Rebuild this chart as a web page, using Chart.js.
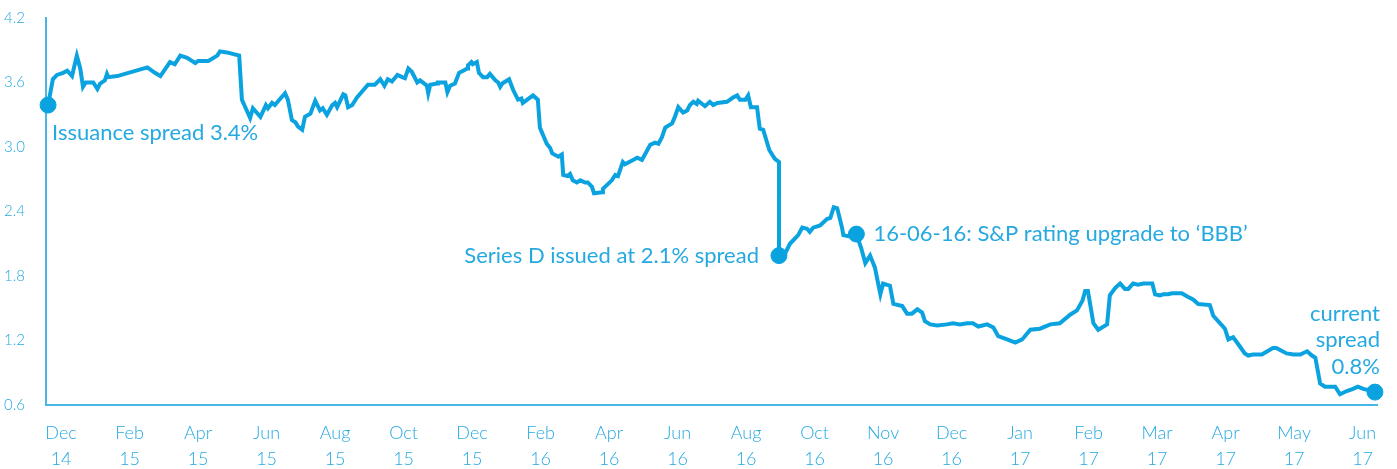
<!DOCTYPE html>
<html lang="en">
<head>
    <meta charset="UTF-8">
    <title>Spread history</title>
    <script src="https://cdn.jsdelivr.net/npm/chart.js@4.4.1/dist/chart.umd.min.js"></script>
    <style>
        body { margin: 0; background: #fff; }
        #wrap { width: 1397px; height: 469px; }
    </style>
</head>
<body>
    <div id="wrap">
        <canvas id="spreadChart" width="1397" height="469"></canvas>
    </div>

    <script>
        // x axis tick labels (one tick per label, evenly spaced as in the source)
        const months = ['Dec', 'Feb', 'Apr', 'Jun', 'Aug', 'Oct', 'Dec', 'Feb', 'Apr', 'Jun',
                        'Aug', 'Oct', 'Nov', 'Dec', 'Jan', 'Feb', 'Mar', 'Apr', 'May', 'Jun'];
        const years = ['14', '15', '15', '15', '15', '15', '15', '16', '16', '16',
                       '16', '16', '16', '16', '17', '17', '17', '17', '17', '17'];
        const yTicks = [0.6, 1.2, 1.8, 2.4, 3.0, 3.6, 4.2];

        // position along the axis (in tick units) and spread (%)
        const pos = [
            -0.19, -0.12, -0.06, 0.03, 0.09, 0.16, 0.23, 0.28, 0.32, 0.36, 0.47, 0.53, 0.57, 0.64, 0.67, 0.69, 0.82,
            1.26, 1.37, 1.45, 1.59, 1.66, 1.74, 1.84, 1.96, 2.00, 2.15, 2.28, 2.32, 2.42, 2.60, 2.64, 2.76, 2.80,
            2.91, 2.99, 3.02, 3.08, 3.12, 3.27, 3.31, 3.37, 3.42, 3.46, 3.52, 3.56, 3.64, 3.71, 3.78, 3.82, 3.88,
            3.96, 4.00, 4.03, 4.12, 4.15, 4.19, 4.25, 4.32, 4.36, 4.48, 4.58, 4.66, 4.72, 4.77, 4.83, 4.91, 4.98,
            5.02, 5.07, 5.12, 5.20, 5.24, 5.34, 5.36, 5.39, 5.49, 5.50, 5.61, 5.64, 5.68, 5.75, 5.81, 5.87, 5.93,
            5.94, 5.99, 6.01, 6.07, 6.10, 6.16, 6.22, 6.26, 6.34, 6.38, 6.41, 6.44, 6.54, 6.60, 6.67, 6.72, 6.74,
            6.89, 6.96, 6.99, 7.09, 7.14, 7.17, 7.26, 7.31, 7.33, 7.39, 7.43, 7.47, 7.53, 7.58, 7.65, 7.69, 7.75,
            7.78, 7.90, 7.91, 8.04, 8.09, 8.13, 8.20, 8.23, 8.35, 8.41, 8.48, 8.60, 8.67, 8.72, 8.77, 8.82, 8.92,
            8.96, 9.01, 9.08, 9.14, 9.18, 9.23, 9.28, 9.30, 9.36, 9.40, 9.47, 9.52, 9.58, 9.72, 9.81, 9.87, 9.91,
            9.99, 10.03, 10.07, 10.16, 10.20, 10.25, 10.34, 10.42, 10.48, 10.48, 10.57, 10.64, 10.76, 10.82, 10.89,
            10.93, 10.98, 11.08, 11.18, 11.23, 11.28, 11.33, 11.40, 11.42, 11.49, 11.61, 11.68, 11.74, 11.81, 11.88,
            11.96, 12.00, 12.10, 12.15, 12.28, 12.35, 12.42, 12.50, 12.57, 12.61, 12.69, 12.79, 12.93, 13.02, 13.12,
            13.23, 13.31, 13.39, 13.52, 13.61, 13.68, 13.81, 13.93, 14.03, 14.15, 14.29, 14.44, 14.58, 14.73, 14.83,
            14.91, 14.95, 14.99, 15.07, 15.14, 15.27, 15.31, 15.39, 15.46, 15.53, 15.58, 15.65, 15.72, 15.80, 15.93,
            15.97, 16.04, 16.09, 16.16, 16.22, 16.36, 16.44, 16.53, 16.60, 16.77, 16.82, 16.92, 16.99, 17.04, 17.11,
            17.18, 17.28, 17.33, 17.40, 17.47, 17.53, 17.61, 17.69, 17.74, 17.89, 17.99, 18.09, 18.19, 18.26, 18.31,
            18.38, 18.45, 18.60, 18.67, 18.77, 18.86, 18.93, 19.01, 19.08, 19.18
        ];
        const spread = [
            3.39, 3.63, 3.67, 3.69, 3.71, 3.66, 3.85, 3.73, 3.56, 3.60, 3.60, 3.54, 3.59, 3.62, 3.68, 3.65, 3.66,
            3.74, 3.69, 3.66, 3.79, 3.77, 3.85, 3.83, 3.78, 3.80, 3.80, 3.85, 3.89, 3.88, 3.85, 3.44, 3.27, 3.36,
            3.28, 3.39, 3.36, 3.41, 3.39, 3.50, 3.44, 3.25, 3.23, 3.19, 3.16, 3.28, 3.31, 3.43, 3.34, 3.36, 3.30,
            3.39, 3.41, 3.37, 3.49, 3.48, 3.37, 3.39, 3.46, 3.49, 3.58, 3.58, 3.63, 3.57, 3.63, 3.61, 3.67, 3.65,
            3.64, 3.73, 3.70, 3.60, 3.62, 3.57, 3.50, 3.58, 3.59, 3.60, 3.60, 3.51, 3.57, 3.59, 3.69, 3.71, 3.73,
            3.76, 3.79, 3.77, 3.79, 3.69, 3.65, 3.65, 3.68, 3.62, 3.60, 3.56, 3.59, 3.63, 3.53, 3.44, 3.45, 3.41,
            3.48, 3.44, 3.18, 3.03, 2.99, 2.94, 2.91, 2.93, 2.74, 2.73, 2.75, 2.69, 2.67, 2.69, 2.67, 2.67, 2.63,
            2.57, 2.58, 2.61, 2.69, 2.74, 2.73, 2.86, 2.84, 2.88, 2.90, 2.88, 3.02, 3.04, 3.03, 3.09, 3.18, 3.22,
            3.28, 3.37, 3.32, 3.34, 3.39, 3.42, 3.40, 3.43, 3.40, 3.38, 3.42, 3.39, 3.41, 3.42, 3.46, 3.48, 3.44,
            3.44, 3.48, 3.37, 3.37, 3.17, 3.16, 2.97, 2.89, 2.86, 1.99, 2.01, 2.10, 2.18, 2.25, 2.24,
            2.21, 2.25, 2.27, 2.33, 2.34, 2.44, 2.43, 2.25, 2.18, 2.17, 2.19, 2.06, 1.92, 1.99, 1.88,
            1.63, 1.73, 1.71, 1.54, 1.52, 1.45, 1.45, 1.49, 1.46, 1.38, 1.35, 1.34, 1.35, 1.36, 1.35,
            1.36, 1.36, 1.33, 1.35, 1.32, 1.24, 1.21, 1.18, 1.21, 1.30, 1.31, 1.35, 1.36, 1.44, 1.48,
            1.57, 1.66, 1.66, 1.36, 1.30, 1.35, 1.62, 1.69, 1.73, 1.68, 1.68, 1.73, 1.72, 1.73, 1.73,
            1.63, 1.62, 1.63, 1.63, 1.64, 1.64, 1.61, 1.58, 1.54, 1.53, 1.43, 1.36, 1.31, 1.21, 1.23,
            1.17, 1.08, 1.06, 1.07, 1.07, 1.07, 1.10, 1.13, 1.13, 1.08, 1.07, 1.07, 1.10, 1.06, 1.04,
            0.80, 0.77, 0.77, 0.70, 0.73, 0.75, 0.77, 0.75, 0.74, 0.72
        ];

        // highlighted events
        const eventPos = [-0.19, 10.48, 11.61, 19.18];
        const eventSpread = [3.39, 1.99, 2.19, 0.72];

        const blue = '#0aa3e0';
        const textBlue = '#26a9e1';
        const font = 'Lato, "Open Sans", sans-serif';

        const notes = {
            id: 'notes',
            afterDatasetsDraw(chart) {
                const ctx = chart.ctx;
                const pts = chart.getDatasetMeta(1).data;
                ctx.save();
                ctx.fillStyle = textBlue;
                ctx.font = '22px ' + font;
                ctx.textBaseline = 'middle';

                ctx.textAlign = 'left';
                ctx.fillText('Issuance spread 3.4%', pts[0].x + 4, pts[0].y + 28);

                ctx.textAlign = 'right';
                ctx.fillText('Series D issued at 2.1% spread', pts[1].x - 20, pts[1].y);

                ctx.textAlign = 'left';
                ctx.fillText('16-06-16: S&P rating upgrade to \u2018BBB\u2019', pts[2].x + 17, pts[2].y);

                ctx.textAlign = 'right';
                ctx.fillText('current', pts[3].x + 5, pts[3].y - 78);
                ctx.fillText('spread', pts[3].x + 5, pts[3].y - 52);
                ctx.fillText('0.8%', pts[3].x + 5, pts[3].y - 25);
                ctx.restore();
            }
        };

        const ctx = document.getElementById('spreadChart').getContext('2d');
        const chart = new Chart(ctx, {
            type: 'line',
            data: {
                datasets: [{
                    data: pos.map((p, i) => ({ x: p, y: spread[i] })),
                    borderColor: blue,
                    borderWidth: 4,
                    pointRadius: 0,
                    tension: 0,
                    clip: false
                }, {
                    type: 'scatter',
                    data: eventPos.map((p, i) => ({ x: p, y: eventSpread[i] })),
                    backgroundColor: blue,
                    borderColor: blue,
                    pointRadius: 8,
                    pointHoverRadius: 8,
                    clip: false
                }]
            },
            options: {
                responsive: false,
                devicePixelRatio: 1,
                animation: false,
                layout: { padding: { top: 18, right: 20, left: 0, bottom: 0 } },
                plugins: { legend: { display: false }, tooltip: { enabled: false } },
                scales: {
                    x: {
                        type: 'linear',
                        min: -0.22,
                        max: 19.21,
                        afterBuildTicks: s => { s.ticks = months.map((m, i) => ({ value: i })); },
                        afterFit: s => { s.height = 64; s.paddingLeft = 0; s.paddingRight = 0; },
                        grid: { display: false },
                        border: { display: true, color: '#4ab6e6', width: 2 },
                        ticks: {
                            autoSkip: false,
                            maxRotation: 0,
                            padding: 8,
                            color: textBlue,
                            font: { family: font, size: 18, weight: 300, lineHeight: 1.4 },
                            callback: v => [months[v], years[v]]
                        }
                    },
                    y: {
                        min: 0.6,
                        max: 4.2,
                        afterBuildTicks: s => { s.ticks = yTicks.map(v => ({ value: v })); },
                        afterFit: s => { s.width = 46; s.paddingTop = 0; s.paddingBottom = 0; },
                        grid: { display: false },
                        border: { display: true, color: '#4ab6e6', width: 2 },
                        ticks: {
                            padding: 13,
                            color: textBlue,
                            font: { family: font, size: 15, weight: 300 },
                            callback: v => v.toFixed(1)
                        }
                    }
                }
            },
            plugins: [notes]
        });
    </script>
</body>
</html>
